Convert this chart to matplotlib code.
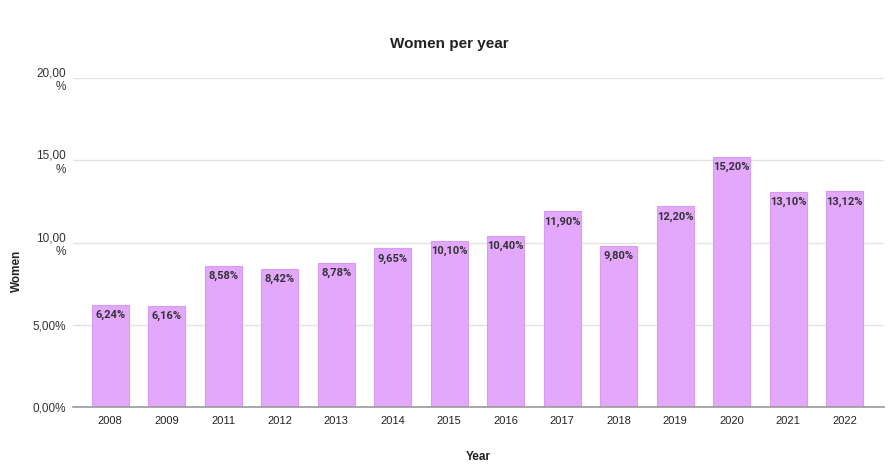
import matplotlib.pyplot as plt

plt.rcParams['font.family'] = ['Liberation Sans', 'DejaVu Sans']

years = ['2008', '2009', '2011', '2012', '2013', '2014', '2015', '2016',
         '2017', '2018', '2019', '2020', '2021', '2022']
women = [6.24, 6.16, 8.58, 8.42, 8.78, 9.65, 10.10, 10.40,
         11.90, 9.80, 12.20, 15.20, 13.10, 13.12]
yticks = [0, 5, 10, 15, 20]
ytick_labels = ['0,00%', '5,00%', '10,00\n%', '15,00\n%', '20,00\n%']

fig = plt.figure(figsize=(8.89, 4.67), dpi=100)
ax = fig.add_axes([0.082, 0.128, 0.912, 0.705])

x = range(len(years))
bars = ax.bar(x, women, width=0.66, color='#e3a8fc', edgecolor='#d59cf2',
              linewidth=0.8, zorder=3)

for xi, v in zip(x, women):
    lbl = f'{v:.2f}'.replace('.', ',') + '%'
    ax.text(xi, v - 0.3, lbl, ha='center', va='top', fontsize=8,
            fontweight='bold', color='#333333', zorder=4,
            family=['Roboto', 'DejaVu Sans'])

ax.set_xlim(-0.66, 13.69)
ax.set_ylim(0, 20)
ax.set_xticks(list(x))
ax.set_xticklabels(years, fontsize=8, color='#222222')
ax.set_yticks(yticks)
ax.set_yticklabels(ytick_labels, fontsize=8.5, color='#333333',
                   multialignment='right')
ax.tick_params(axis='x', length=0, pad=6)
ax.tick_params(axis='y', length=0, pad=5)

ax.grid(axis='y', color='#e3e3e3', linewidth=1, zorder=0)
for s in ['top', 'right', 'left']:
    ax.spines[s].set_visible(False)
ax.spines['bottom'].set_color('#999999')
ax.spines['bottom'].set_linewidth(1.2)
ax.spines['bottom'].set_zorder(5)

fig.text(0.505, 0.905, 'Women per year', ha='center', va='center',
         fontsize=11, fontweight='bold', color='#222222')
fig.text(0.019, 0.42, 'Women', ha='center', va='center', rotation=90,
         fontsize=8.5, fontweight='bold', color='#222222')
fig.text(0.538, 0.021, 'Year', ha='center', va='center',
         fontsize=8.5, fontweight='bold', color='#222222')

fig.savefig('out.png', dpi=100)
